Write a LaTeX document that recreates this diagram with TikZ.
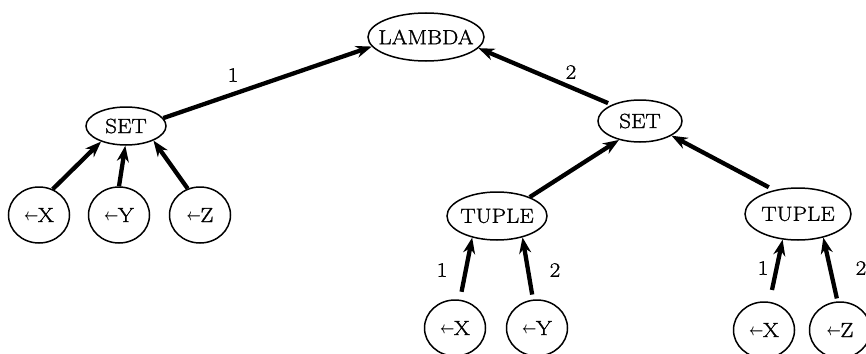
\documentclass[tikz,border=0pt]{standalone}
\usepackage{fontspec}
\usepackage{graphicx}
\usetikzlibrary{arrows.meta,shapes.geometric}

% wide, slightly heavy roman for all labels
\newfontfamily\treefont{Latin Modern Roman}[FakeStretch=1.12,FakeBold=1.2]

% centred text of zero width, so the ellipse size is set by the style only
\newcommand\ctext[1]{\makebox[0pt]{#1}}
% variable marker: small left arrow before the name
\newcommand\leafvar[1]{\ctext{\raisebox{0.2ex}{\scalebox{0.6}[0.8]{\boldmath$\leftarrow$}}\kern-0.5pt#1}}

\begin{document}
\begin{tikzpicture}[x=1pt,y=-1pt,
  oval/.style={draw,ellipse,line width=1.5pt,inner sep=0pt,
    font=\treefont\fontsize{20.5}{22}\selectfont},
  leaf/.style={oval,minimum width=61pt,minimum height=56pt},
  edge/.style={line width=4.3pt,-{Stealth[length=16pt,width=12pt]}},
  lbl/.style={font=\treefont\fontsize{20.5}{22}\selectfont}]
\useasboundingbox (0,0) rectangle (866,353);

% nodes
\node[oval,minimum width=116pt,minimum height=48pt] (lam) at (426,37) {\ctext{LAMBDA}};
\node[oval,minimum width=80pt,minimum height=38pt] (lset) at (126,126) {\ctext{SET}};
\node[oval,minimum width=84pt,minimum height=42pt] (rset) at (640,121) {\ctext{SET}};
\node[oval,minimum width=100pt,minimum height=48pt] (ltup) at (497,216) {\ctext{TUPLE}};
\node[oval,minimum width=106pt,minimum height=52pt] (rtup) at (798,214) {\ctext{TUPLE}};

\node[leaf] (lx) at (39,215) {\leafvar{X}};
\node[leaf] (ly) at (119,215) {\leafvar{Y}};
\node[leaf] (lz) at (200,215) {\leafvar{Z}};
\node[leaf] (tx) at (455,328) {\leafvar{X}};
\node[leaf] (ty) at (537,328) {\leafvar{Y}};
\node[leaf] (ux) at (764,330) {\leafvar{X}};
\node[leaf] (uz) at (840,330) {\leafvar{Z}};

% edges
\draw[edge] (lset.12) -- (lam.190);
\draw[edge,shorten <=4pt] (rset.150) -- (lam.348);
\draw[edge] (lx.62) -- (lset.212);
\draw[edge] (ly.90) -- (lset.268);
\draw[edge] (lz.115) -- (lset.332);
\draw[edge] (ltup.30) -- (rset.222);
\draw[edge,shorten <=6pt] (rtup.135) -- (rset.335);
\draw[edge,shorten <=8pt] (tx.80) -- (ltup.221);
\draw[edge,shorten <=5pt] (ty.98) -- (ltup.320);
\draw[edge,shorten <=12pt] (ux.79) -- (rtup.239);
\draw[edge,shorten <=3pt] (uz.95) -- (rtup.317);

% edge labels
\node[lbl] (l1) at (233,75) {1};
\node[lbl] (l2) at (571,72) {2};
\node[lbl] (t1) at (442,270) {1};
\node[lbl] (t2) at (555,270) {2};
\node[lbl] (u1) at (763,268) {1};
\node[lbl] (u2) at (861,268) {2};
\end{tikzpicture}
\end{document}
